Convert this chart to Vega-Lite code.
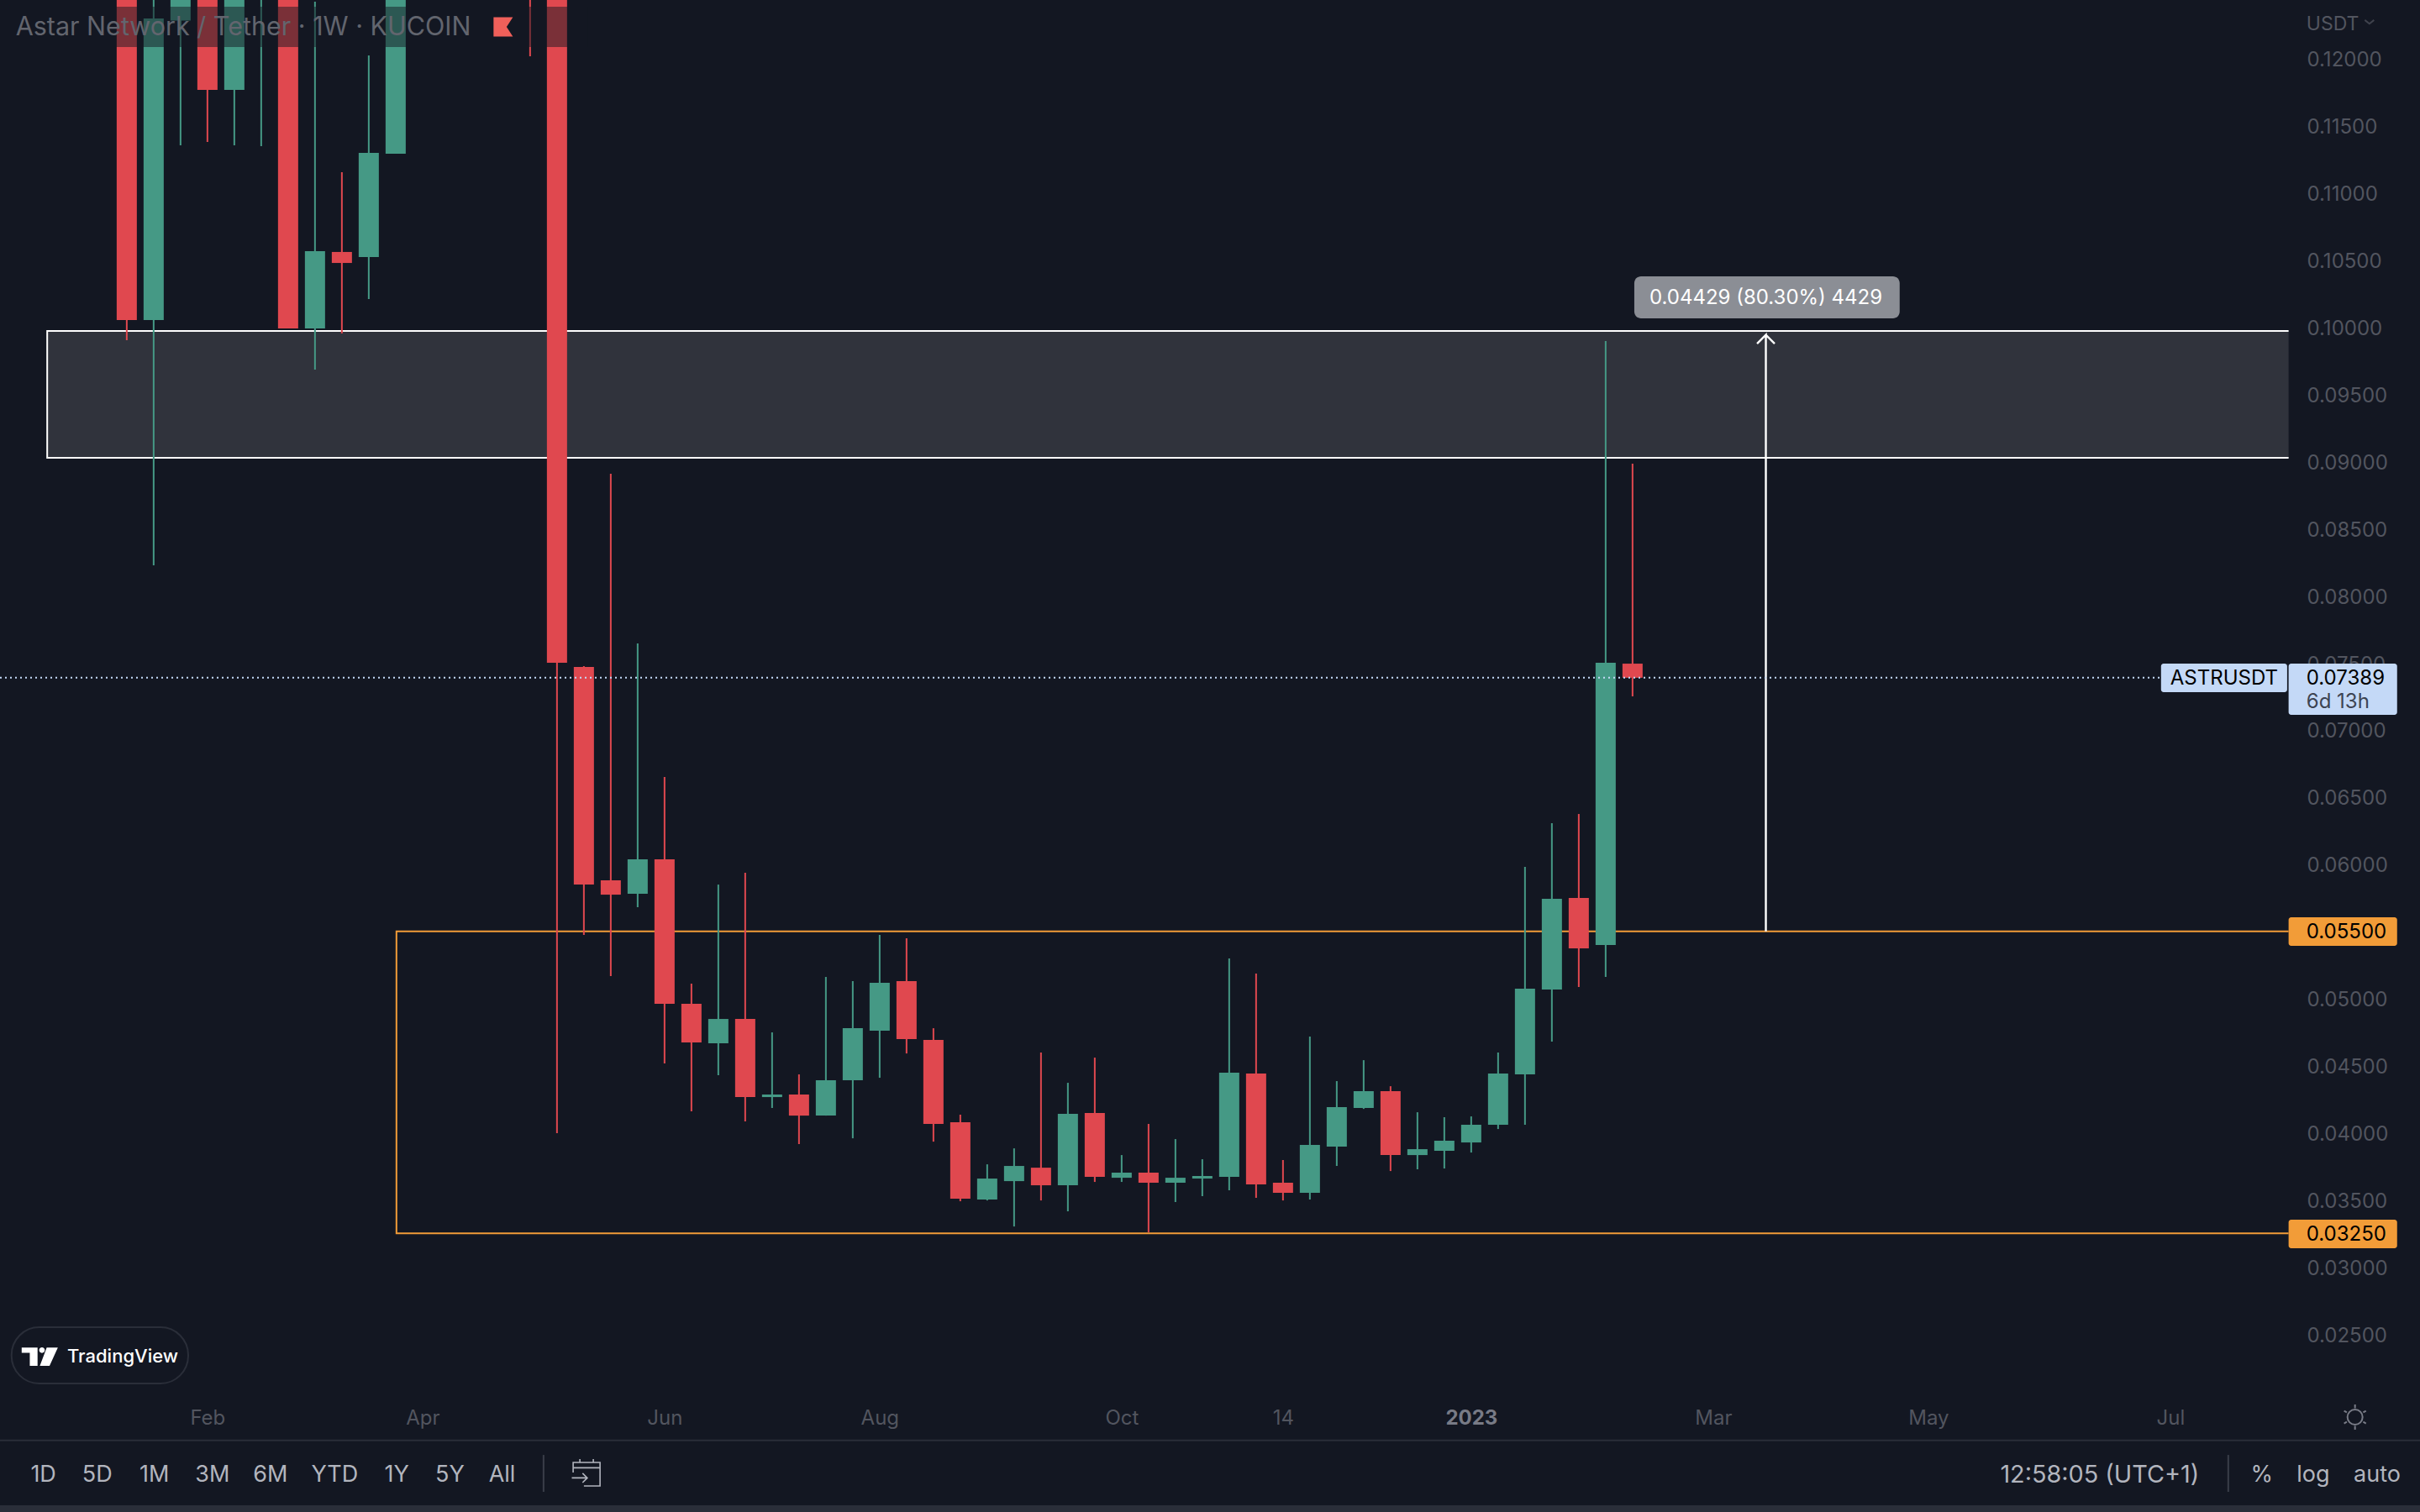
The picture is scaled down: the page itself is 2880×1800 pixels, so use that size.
{
  "$schema": "https://vega.github.io/schema/vega-lite/v6.json",
  "width": 2880,
  "height": 1800,
  "autosize": {"type": "none"},
  "padding": 0,
  "background": "#131722",
  "config": {"view": {"stroke": null}, "font": "Inter"},
  "datasets": {
    "candles": [
      {"date":"2022-01-17","open":0.15,"high":0.155,"low":0.09904,"close":0.10054},
      {"date":"2022-01-24","open":0.10054,"high":0.14,"low":0.08226,"close":0.123},
      {"date":"2022-01-31","open":0.12285,"high":0.14,"low":0.11355,"close":0.135},
      {"date":"2022-02-07","open":0.135,"high":0.14,"low":0.1138,"close":0.11768},
      {"date":"2022-02-14","open":0.11768,"high":0.14,"low":0.11355,"close":0.135},
      {"date":"2022-02-21","open":0.13,"high":0.14,"low":0.11349,"close":0.133},
      {"date":"2022-02-28","open":0.14,"high":0.145,"low":0.09991,"close":0.09991},
      {"date":"2022-03-07","open":0.09991,"high":0.12425,"low":0.09684,"close":0.10567},
      {"date":"2022-03-14","open":0.10561,"high":0.11155,"low":0.09954,"close":0.10479},
      {"date":"2022-03-21","open":0.10523,"high":0.12025,"low":0.1021,"close":0.11299},
      {"date":"2022-03-28","open":0.11293,"high":0.14,"low":0.11293,"close":0.135},
      {"date":"2022-05-02","open":0.15,"high":0.16,"low":0.12019,"close":0.148},
      {"date":"2022-05-09","open":0.145,"high":0.15,"low":0.03996,"close":0.075},
      {"date":"2022-05-16","open":0.07469,"high":0.07475,"low":0.05473,"close":0.05848},
      {"date":"2022-05-23","open":0.0588,"high":0.08908,"low":0.05166,"close":0.05773},
      {"date":"2022-05-30","open":0.05779,"high":0.07644,"low":0.05679,"close":0.06036},
      {"date":"2022-06-06","open":0.06036,"high":0.06649,"low":0.04515,"close":0.0496},
      {"date":"2022-06-13","open":0.0496,"high":0.0511,"low":0.04159,"close":0.04672},
      {"date":"2022-06-20","open":0.04666,"high":0.05848,"low":0.04428,"close":0.04847},
      {"date":"2022-06-27","open":0.04847,"high":0.05936,"low":0.04084,"close":0.04265},
      {"date":"2022-07-04","open":0.04265,"high":0.04747,"low":0.04184,"close":0.04284},
      {"date":"2022-07-11","open":0.04284,"high":0.04434,"low":0.03915,"close":0.04127},
      {"date":"2022-07-18","open":0.04127,"high":0.0516,"low":0.04127,"close":0.0439},
      {"date":"2022-07-25","open":0.0439,"high":0.05129,"low":0.03958,"close":0.04778},
      {"date":"2022-08-01","open":0.04759,"high":0.05473,"low":0.04409,"close":0.05116},
      {"date":"2022-08-08","open":0.05129,"high":0.05448,"low":0.0459,"close":0.04697},
      {"date":"2022-08-15","open":0.04691,"high":0.04778,"low":0.03933,"close":0.04065},
      {"date":"2022-08-22","open":0.04077,"high":0.04134,"low":0.03489,"close":0.03508},
      {"date":"2022-08-29","open":0.03502,"high":0.03764,"low":0.03495,"close":0.03658},
      {"date":"2022-09-05","open":0.03639,"high":0.03883,"low":0.03301,"close":0.03752},
      {"date":"2022-09-12","open":0.03739,"high":0.04597,"low":0.03495,"close":0.03608},
      {"date":"2022-09-19","open":0.03608,"high":0.04371,"low":0.03414,"close":0.0414},
      {"date":"2022-09-26","open":0.04146,"high":0.04559,"low":0.03633,"close":0.03671},
      {"date":"2022-10-03","open":0.03664,"high":0.03833,"low":0.03633,"close":0.03702},
      {"date":"2022-10-10","open":0.03702,"high":0.04065,"low":0.03258,"close":0.03627},
      {"date":"2022-10-17","open":0.03627,"high":0.03952,"low":0.03483,"close":0.03664},
      {"date":"2022-10-24","open":0.03658,"high":0.03802,"low":0.03527,"close":0.03677},
      {"date":"2022-10-31","open":0.03671,"high":0.05298,"low":0.0357,"close":0.04447},
      {"date":"2022-11-07","open":0.04441,"high":0.05185,"low":0.03514,"close":0.03614},
      {"date":"2022-11-14","open":0.03627,"high":0.03796,"low":0.03495,"close":0.03552},
      {"date":"2022-11-21","open":0.03552,"high":0.04716,"low":0.03502,"close":0.03908},
      {"date":"2022-11-28","open":0.03896,"high":0.04384,"low":0.03752,"close":0.0419},
      {"date":"2022-12-05","open":0.04184,"high":0.0454,"low":0.04177,"close":0.04309},
      {"date":"2022-12-12","open":0.04309,"high":0.04346,"low":0.03714,"close":0.03833},
      {"date":"2022-12-19","open":0.03833,"high":0.04152,"low":0.03727,"close":0.03877},
      {"date":"2022-12-26","open":0.03865,"high":0.04115,"low":0.03733,"close":0.0394},
      {"date":"2023-01-02","open":0.03927,"high":0.04121,"low":0.03852,"close":0.04059},
      {"date":"2023-01-09","open":0.04059,"high":0.04597,"low":0.04027,"close":0.04441},
      {"date":"2023-01-16","open":0.04434,"high":0.0598,"low":0.04059,"close":0.05072},
      {"date":"2023-01-23","open":0.05066,"high":0.06305,"low":0.04678,"close":0.05742},
      {"date":"2023-01-30","open":0.05748,"high":0.06374,"low":0.05085,"close":0.05373},
      {"date":"2023-02-06","open":0.05398,"high":0.09897,"low":0.0516,"close":0.075},
      {"date":"2023-02-13","open":0.07494,"high":0.08984,"low":0.0725,"close":0.07389}
    ]
  },
  "encoding": {
    "x": {
      "field": "date",
      "type": "temporal",
      "title": null,
      "scale": {
        "type": "utc",
        "padding": 0,
        "domain": [
          {"year": 2021, "month": 12, "date": 15, "utc": true},
          {"year": 2023, "month": 9, "date": 6, "utc": true}
        ]
      },
      "axis": {
        "orient": "bottom",
        "offset": -112,
        "domain": false,
        "ticks": false,
        "grid": false,
        "labelPadding": 0,
        "labelBaseline": "middle",
        "labelFontSize": 24,
        "labelOverlap": false,
        "labelFlush": false,
        "labelBound": false,
        "labelColor": {"condition": {"test": "utcmonth(datum.value)==0", "value": "#787b86"}, "value": "#52555f"},
        "labelFontWeight": {"condition": {"test": "utcmonth(datum.value)==0", "value": "bold"}, "value": "normal"},
        "labelExpr": "utcmonth(datum.value)==10 ? '14' : utcmonth(datum.value)==0 ? '2023' : utcFormat(datum.value,'%b')",
        "values": [
          {"year": 2022, "month": 2, "date": 7, "utc": true},
          {"year": 2022, "month": 4, "date": 4, "utc": true},
          {"year": 2022, "month": 6, "date": 6, "utc": true},
          {"year": 2022, "month": 8, "date": 1, "utc": true},
          {"year": 2022, "month": 10, "date": 3, "utc": true},
          {"year": 2022, "month": 11, "date": 14, "utc": true},
          {"year": 2023, "month": 1, "date": 2, "utc": true},
          {"year": 2023, "month": 3, "date": 6, "utc": true},
          {"year": 2023, "month": 5, "date": 1, "utc": true},
          {"year": 2023, "month": 7, "date": 3, "utc": true}
        ]
      }
    },
    "y": {
      "field": "price",
      "type": "quantitative",
      "title": null,
      "scale": {"domain": [0.01174, 0.12438], "nice": false, "zero": false},
      "axis": {
        "orient": "right",
        "offset": -135,
        "domain": false,
        "ticks": false,
        "grid": false,
        "labelPadding": 0,
        "labelOffset": 2,
        "labelAlign": "left",
        "labelFontSize": 24,
        "labelColor": "#52555f",
        "labelOverlap": false,
        "labelFlush": false,
        "labelBound": false,
        "format": ".5f",
        "values": [0.025,0.03,0.035,0.04,0.045,0.05,0.055,0.06,0.065,0.07,0.075,0.08,0.085,0.09,0.095,0.1,0.105,0.11,0.115,0.12]
      }
    }
  },
  "layer": [
    {
      "data": {"values": [{"date":"2021-12-27T07:00:00Z","end":"2023-08-02T19:00:00Z","price":0.09972,"bottom":0.09027}]},
      "mark": {"type": "rect", "color": "#30333c"},
      "encoding": {"x2": {"field": "end"}, "y2": {"field": "bottom"}}
    },
    {
      "data": {"values": [
        {"zone":"resistance","seq":0,"date":"2023-08-02T19:00:00Z","price":0.09972},
        {"zone":"resistance","seq":1,"date":"2021-12-27T07:00:00Z","price":0.09972},
        {"zone":"resistance","seq":2,"date":"2021-12-27T07:00:00Z","price":0.09027},
        {"zone":"resistance","seq":3,"date":"2023-08-02T19:00:00Z","price":0.09027},
        {"zone":"support","seq":0,"date":"2023-08-02T19:00:00Z","price":0.055},
        {"zone":"support","seq":1,"date":"2022-03-28T05:00:00Z","price":0.055},
        {"zone":"support","seq":2,"date":"2022-03-28T05:00:00Z","price":0.0325},
        {"zone":"support","seq":3,"date":"2023-08-02T19:00:00Z","price":0.0325}
      ]},
      "mark": {"type": "line", "strokeWidth": 2},
      "encoding": {
        "order": {"field": "seq", "type": "quantitative"},
        "color": {"field": "zone", "type": "nominal", "legend": null, "scale": {"domain": ["resistance", "support"], "range": ["#ffffff", "#f29c38"]}}
      }
    },
    {
      "data": {"name": "candles"},
      "mark": {"type": "rule", "strokeWidth": 2, "clip": true},
      "encoding": {
        "y": {"field": "high", "type": "quantitative", "title": null, "scale": {"domain": [0.01174, 0.12438], "nice": false, "zero": false}},
        "y2": {"field": "low"},
        "color": {"condition": {"test": "datum.close >= datum.open", "value": "#459985"}, "value": "#e0484f"}
      }
    },
    {
      "data": {"name": "candles"},
      "mark": {"type": "bar", "size": 24, "clip": true},
      "encoding": {
        "y": {"field": "open", "type": "quantitative", "title": null, "scale": {"domain": [0.01174, 0.12438], "nice": false, "zero": false}},
        "y2": {"field": "close"},
        "color": {"condition": {"test": "datum.close >= datum.open", "value": "#459985"}, "value": "#e0484f"}
      }
    },
    {
      "data": {"values": [
        {"seq":0,"date":"2023-03-19T17:00:00Z","price":0.055},
        {"seq":1,"date":"2023-03-19T17:00:00Z","price":0.09943},
        {"seq":2,"date":"2023-03-17T10:00:00Z","price":0.09878},
        {"seq":3,"date":"2023-03-19T17:00:00Z","price":0.09943},
        {"seq":4,"date":"2023-03-22T00:00:00Z","price":0.09878}
      ]},
      "mark": {"type": "line", "color": "#ffffff", "strokeWidth": 2.4},
      "encoding": {"order": {"field": "seq", "type": "quantitative"}}
    },
    {
      "data": {"values": [{"date":"2023-02-13T11:00:00Z","end":"2023-04-23T13:00:00Z","price":0.10379,"bottom":0.10066}]},
      "mark": {"type": "rect", "color": "#8b8e95", "cornerRadius": 8},
      "encoding": {"x2": {"field": "end"}, "y2": {"field": "bottom"}}
    },
    {
      "data": {"values": [{"date":"2023-03-19T17:00:00Z","price":0.10223,"label":"0.04429 (80.30%) 4429"}]},
      "mark": {"type": "text", "color": "#ffffff", "fontSize": 24, "align": "center", "baseline": "middle", "dy": 1.5},
      "encoding": {"text": {"field": "label"}}
    },
    {
      "data": {"values": [{"date":"2021-12-15","end":"2023-06-30T14:00:00Z","price":0.07389}]},
      "mark": {"type": "rule", "color": "#c4d9f7", "strokeWidth": 2, "strokeDash": [2, 4]},
      "encoding": {"x2": {"field": "end"}}
    },
    {
      "data": {"values": [
        {"date":"2023-06-30T14:00:00Z","end":"2023-08-02T10:00:00Z","price":0.07494,"bottom":0.07281},
        {"date":"2023-08-02T19:00:00Z","end":"2023-08-31T01:00:00Z","price":0.07494,"bottom":0.07112}
      ]},
      "mark": {"type": "rect", "color": "#c4d9f7", "cornerRadius": 3},
      "encoding": {"x2": {"field": "end"}, "y2": {"field": "bottom"}}
    },
    {
      "data": {"values": [
        {"date":"2023-08-02T19:00:00Z","end":"2023-08-31T01:00:00Z","price":0.05604,"bottom":0.05392},
        {"date":"2023-08-02T19:00:00Z","end":"2023-08-31T01:00:00Z","price":0.03351,"bottom":0.03139}
      ]},
      "mark": {"type": "rect", "color": "#f29c38", "cornerRadius": 3},
      "encoding": {"x2": {"field": "end"}, "y2": {"field": "bottom"}}
    },
    {
      "data": {"values": [
        {"date":"2023-08-07T10:00:00Z","price":0.07389,"label":"0.07389"},
        {"date":"2023-08-07T10:00:00Z","price":0.055,"label":"0.05500"},
        {"date":"2023-08-07T10:00:00Z","price":0.0325,"label":"0.03250"}
      ]},
      "mark": {"type": "text", "color": "#000000", "fontSize": 24, "align": "left", "baseline": "middle", "dy": 1.5},
      "encoding": {"text": {"field": "label"}}
    },
    {
      "data": {"values": [{"date":"2023-07-17","price":0.07389,"label":"ASTRUSDT"}]},
      "mark": {"type": "text", "color": "#000000", "fontSize": 24, "align": "center", "baseline": "middle", "dy": 1.5},
      "encoding": {"text": {"field": "label"}}
    },
    {
      "data": {"values": [{"date":"2023-08-07T10:00:00Z","price":0.07219,"label":"6d 13h"}]},
      "mark": {"type": "text", "color": "#3d4452", "fontSize": 24, "align": "left", "baseline": "middle", "dy": 1.5},
      "encoding": {"text": {"field": "label"}}
    },
    {
      "data": {"values": [{"date":"2023-08-07T10:00:00Z","price":0.12269,"label":"USDT"}]},
      "mark": {"type": "text", "color": "#52555f", "fontSize": 23, "align": "left", "baseline": "middle", "dy": 1.5},
      "encoding": {"text": {"field": "label"}}
    },
    {
      "data": {"values": [{"date":"2023-08-23T20:00:00Z","price":0.12275}]},
      "mark": {"type": "point", "shape": "M-1,-0.4 L0,0.4 L1,-0.4", "size": 121, "filled": false, "stroke": "#52555f", "strokeWidth": 2}
    },
    {
      "data": {"values": [{"date":"2021-12-15","end":"2022-05-17","price":0.12388,"bottom":0.12088}]},
      "mark": {"type": "rect", "color": "#131722", "opacity": 0.5},
      "encoding": {"x2": {"field": "end"}, "y2": {"field": "bottom"}}
    },
    {
      "data": {"values": [{"date":"2021-12-19T02:00:00Z","price":0.12231,"label":"Astar Network / Tether · 1W · KUCOIN"}]},
      "mark": {"type": "text", "color": "#62656e", "fontSize": 30.5, "align": "left", "baseline": "middle"},
      "encoding": {"text": {"field": "label"}}
    },
    {
      "data": {"values": [{"date":"2022-04-25","price":0.12238}]},
      "mark": {"type": "point", "shape": "M-1,-1 H1 L0.35,0 L1,1 H-1 Z", "size": 529, "filled": true, "color": "#f0605a", "opacity": 1}
    },
    {
      "data": {"values": [{"date":"2021-12-18","end":"2022-02-02","price":0.0255,"bottom":0.02131}]},
      "mark": {"type": "rect", "color": "#131722", "stroke": "#2a2e39", "strokeWidth": 2, "cornerRadius": 33},
      "encoding": {"x2": {"field": "end"}, "y2": {"field": "bottom"}}
    },
    {
      "data": {"values": [{"date":"2021-12-25T09:00:00Z","price":0.02331}]},
      "mark": {"type": "point", "shape": "M-1.03,-0.52 H-0.13 V0.52 H-0.57 V-0.22 H-1.03 Z M-0.04,-0.37 A0.16,0.16 0 1,1 0.28,-0.37 A0.16,0.16 0 1,1 -0.04,-0.37 Z M0.39,-0.52 H1.02 L0.55,0.52 H0 Z", "size": 1764, "filled": true, "color": "#ffffff", "opacity": 1}
    },
    {
      "data": {"values": [{"date":"2022-01-01T12:00:00Z","price":0.02331,"label":"TradingView"}]},
      "mark": {"type": "text", "color": "#ffffff", "fontSize": 22, "fontWeight": 500, "align": "left", "baseline": "middle"},
      "encoding": {"text": {"field": "label"}}
    },
    {
      "data": {"values": [{"date":"2021-12-15","end":"2023-09-06","price":0.01707}]},
      "mark": {"type": "rule", "color": "#2a2e39", "strokeWidth": 2},
      "encoding": {"x2": {"field": "end"}}
    },
    {
      "data": {"values": [{"date":"2021-12-15","end":"2023-09-06","price":0.01224,"bottom":0.01174}]},
      "mark": {"type": "rect", "color": "#2a2e39"},
      "encoding": {"x2": {"field": "end"}, "y2": {"field": "bottom"}}
    },
    {
      "data": {"values": [
        {"date":"2022-05-05T12:00:00Z","price":0.01599,"bottom":0.01324},
        {"date":"2023-07-18T02:00:00Z","price":0.01599,"bottom":0.01324}
      ]},
      "mark": {"type": "rule", "color": "#3a3e49", "strokeWidth": 2},
      "encoding": {"y2": {"field": "bottom"}}
    },
    {
      "data": {"values": [
        {"date":"2021-12-26T07:00:00Z","price":0.01455,"label":"1D"},
        {"date":"2022-01-09T08:00:00Z","price":0.01455,"label":"5D"},
        {"date":"2022-01-24T04:00:00Z","price":0.01455,"label":"1M"},
        {"date":"2022-02-08T07:00:00Z","price":0.01455,"label":"3M"},
        {"date":"2022-02-23T10:00:00Z","price":0.01455,"label":"6M"},
        {"date":"2022-03-12T03:00:00Z","price":0.01455,"label":"YTD"},
        {"date":"2022-03-28T07:00:00Z","price":0.01455,"label":"1Y"},
        {"date":"2022-04-11T03:00:00Z","price":0.01455,"label":"5Y"},
        {"date":"2022-04-24T17:00:00Z","price":0.01455,"label":"All"},
        {"date":"2023-07-26T20:00:00Z","price":0.01455,"label":"%"},
        {"date":"2023-08-09T05:00:00Z","price":0.01455,"label":"log"},
        {"date":"2023-08-25T20:00:00Z","price":0.01455,"label":"auto"}
      ]},
      "mark": {"type": "text", "color": "#b2b5be", "fontSize": 27, "align": "center", "baseline": "middle", "dy": 1},
      "encoding": {"text": {"field": "label"}}
    },
    {
      "data": {"values": [{"date":"2023-06-14T15:00:00Z","price":0.01455,"label":"12:58:05 (UTC+1)"}]},
      "mark": {"type": "text", "color": "#b2b5be", "fontSize": 28.8, "align": "center", "baseline": "middle", "dy": 1},
      "encoding": {"text": {"field": "label"}}
    },
    {
      "data": {"values": [{"date":"2022-05-16T17:00:00Z","price":0.01468}]},
      "mark": {"type": "point", "shape": "M-1,0 V-0.75 H1 V1 H-0.2 M-1,-0.35 H1 M-0.5,-1 V-0.7 M0.5,-1 V-0.7 M-1.1,0.4 H0 M-0.3,0.05 L0.05,0.4 L-0.3,0.75", "size": 1024, "filled": false, "stroke": "#b2b5be", "strokeWidth": 1.6, "opacity": 1}
    },
    {
      "data": {"values": [{"date":"2023-08-20T02:00:00Z","price":0.01881}]},
      "mark": {"type": "point", "shape": "M-0.6,0 A0.6,0.6 0 1,1 0.6,0 A0.6,0.6 0 1,1 -0.6,0 M0,-1 V-0.7 M0,1 V0.7 M-0.87,-0.5 L-0.65,-0.37 M0.87,-0.5 L0.65,-0.37 M-0.87,0.5 L-0.65,0.37 M0.87,0.5 L0.65,0.37", "size": 900, "filled": false, "stroke": "#787b86", "strokeWidth": 2, "opacity": 1}
    }
  ]
}
